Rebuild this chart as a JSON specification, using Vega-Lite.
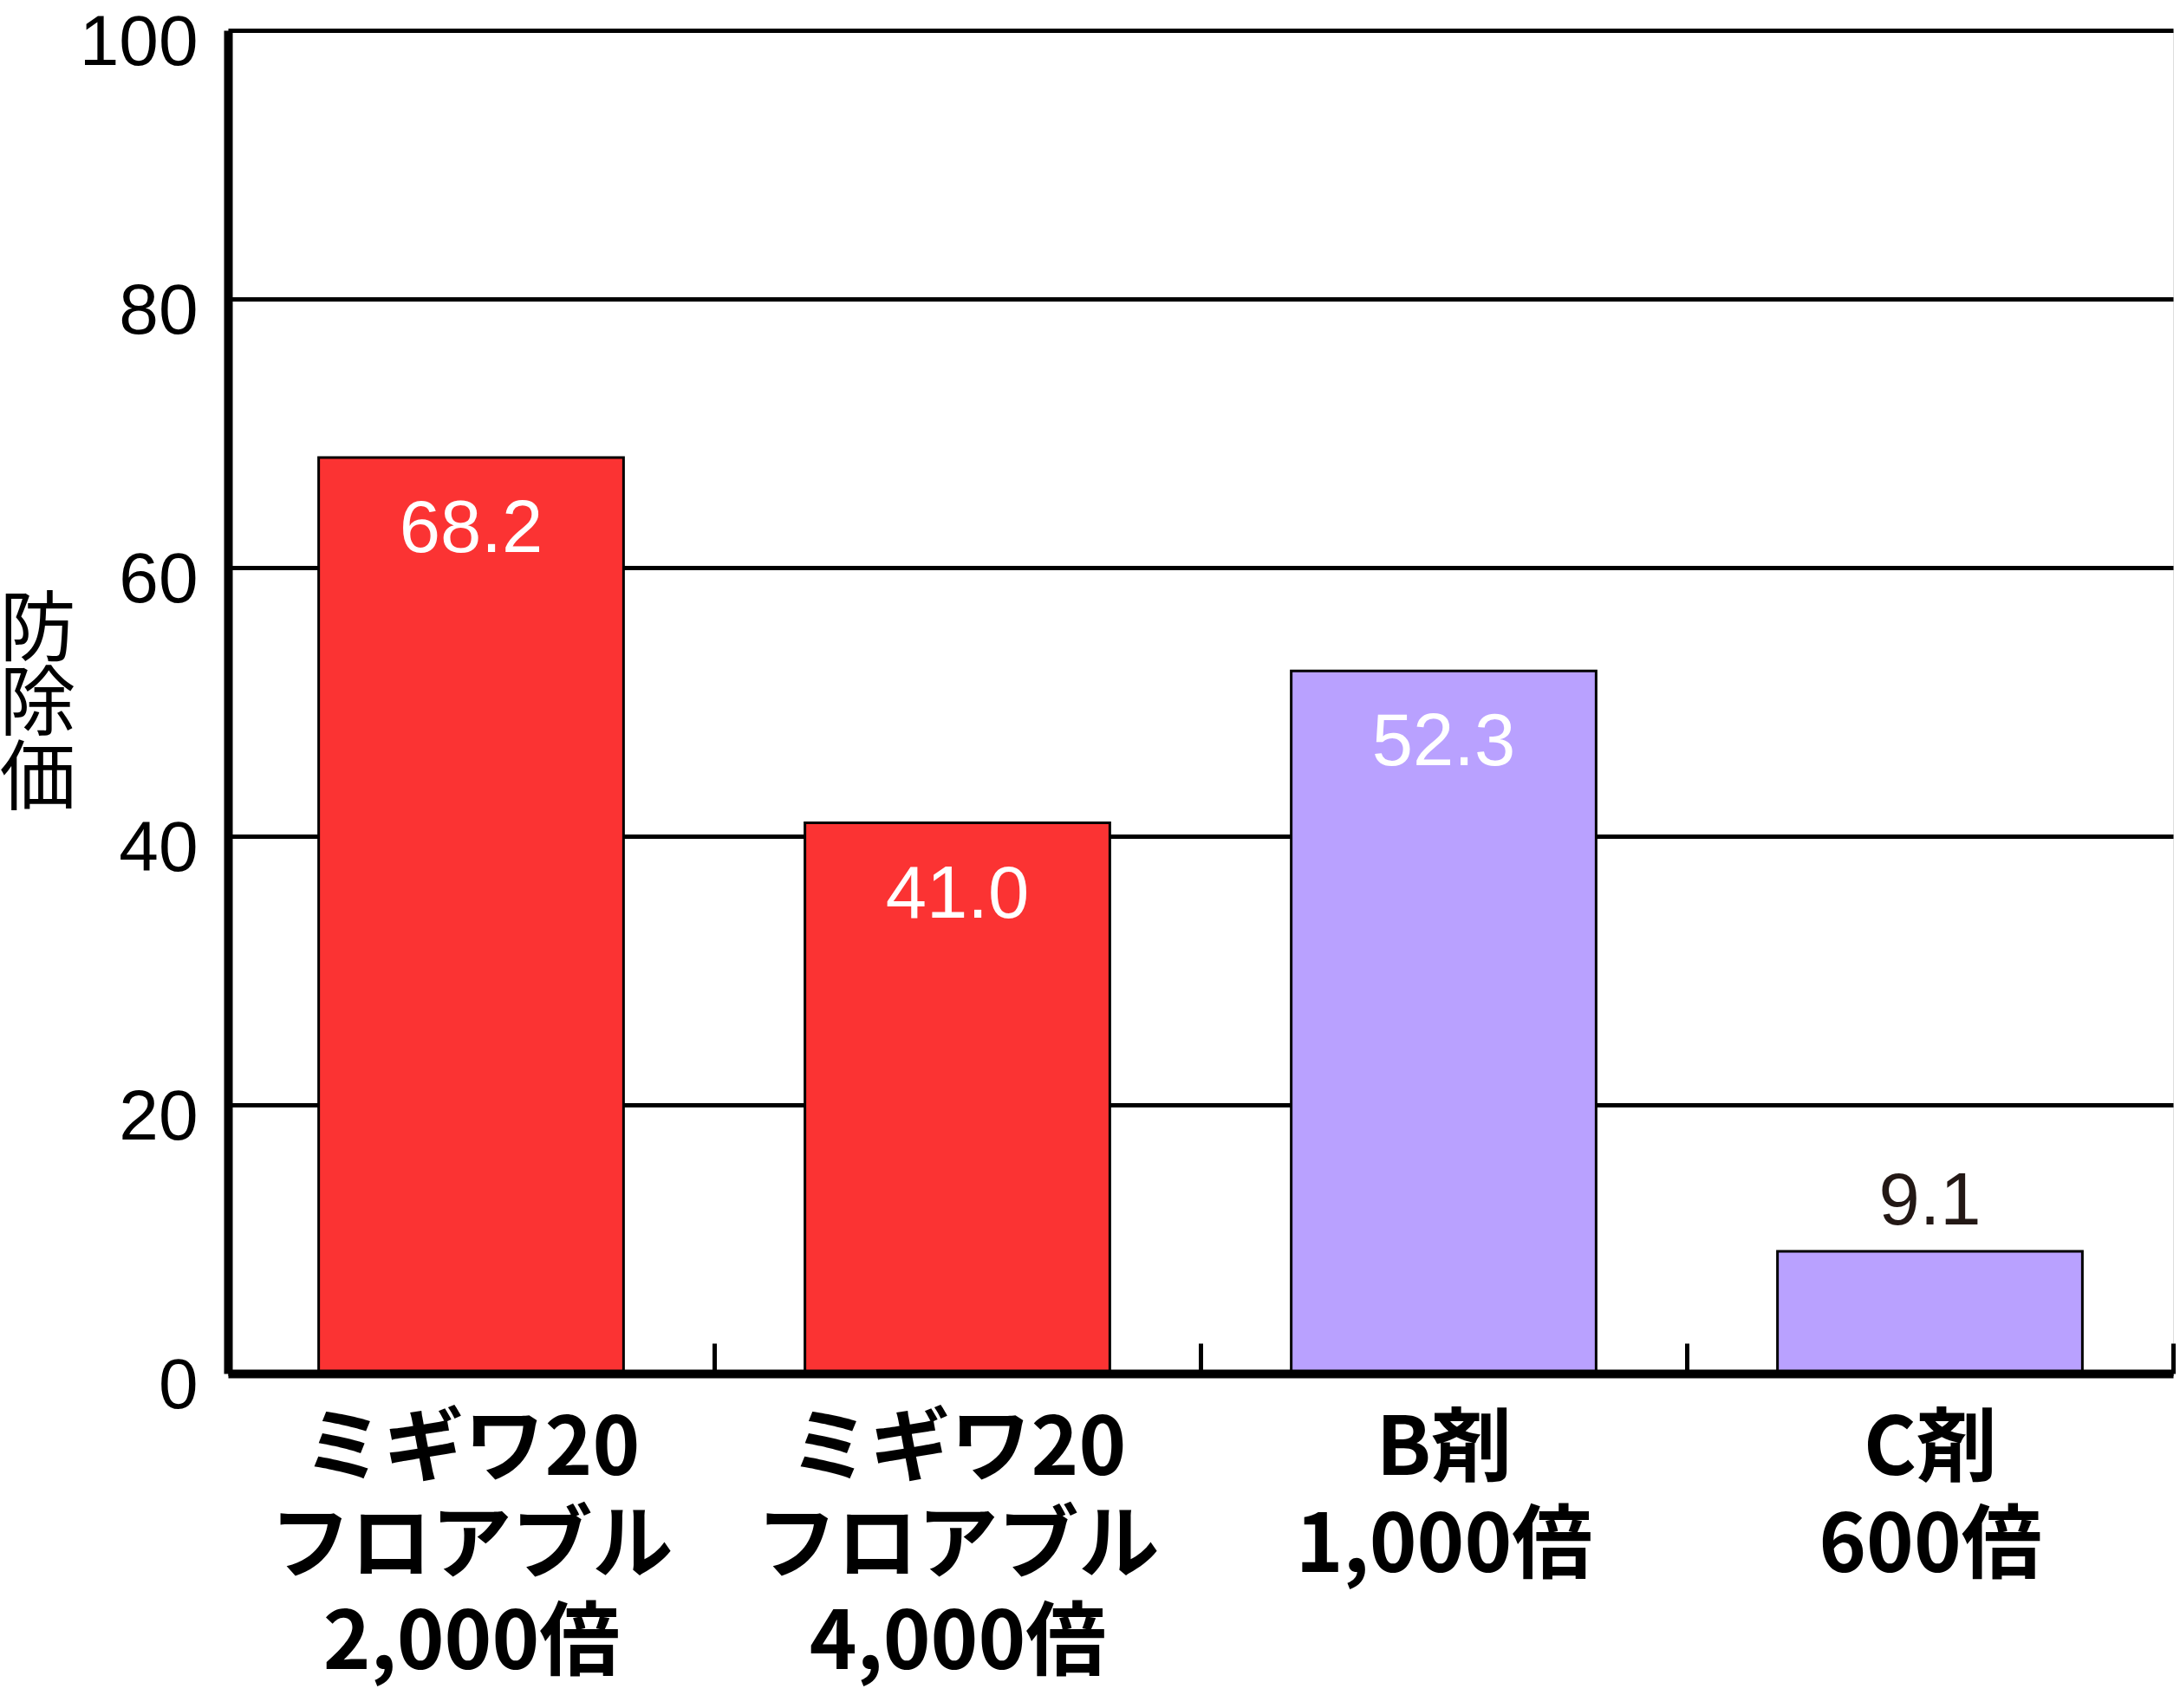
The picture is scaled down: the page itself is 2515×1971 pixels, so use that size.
{
  "$schema": "https://vega.github.io/schema/vega-lite/v6.json",
  "autosize": {"type": "none"},
  "padding": {"left": 263, "top": 35, "right": 8, "bottom": 386},
  "width": 2244,
  "height": 1550,
  "background": "white",
  "data": {
    "values": [
      {"name": "ミギワ20 フロアブル 2,000倍", "type": "ミギワ20", "value": 68.2, "label": "68.2"},
      {"name": "ミギワ20 フロアブル 4,000倍", "type": "ミギワ20", "value": 41.0, "label": "41.0"},
      {"name": "B剤 1,000倍", "type": "対照剤", "value": 52.3, "label": "52.3"},
      {"name": "C剤 600倍", "type": "対照剤", "value": 9.1, "label": "9.1"}
    ]
  },
  "encoding": {
    "x": {
      "field": "name", "type": "nominal", "sort": null,
      "scale": {"paddingInner": 0.373, "paddingOuter": 0.1865},
      "axis": {
        "title": null,
        "labelAngle": 0,
        "labelExpr": "split(datum.label, ' ')",
        "labelFont": "Noto Sans CJK JP",
        "labelFontWeight": "bold",
        "labelFontSize": 93,
        "labelLineHeight": 112,
        "labelLimit": 2000,
        "labelColor": "black",
        "labelBaseline": "top",
        "labelPadding": 78,
        "labelOffset": -280.5,
        "domainColor": "black",
        "domainWidth": 10,
        "tickOffset": 280.5,
        "tickSize": -35,
        "tickWidth": 5,
        "tickColor": "black",
        "grid": false,
        "zindex": 1
      }
    },
    "y": {
      "field": "value", "type": "quantitative",
      "scale": {"domain": [0, 100], "nice": false},
      "axis": {
        "values": [0, 20, 40, 60, 80, 100],
        "title": ["防", "除", "価"],
        "titleAngle": 0,
        "titleFont": "Noto Sans CJK JP",
        "titleFontWeight": "normal",
        "titleFontSize": 88,
        "titleLineHeight": 86,
        "titleColor": "black",
        "titleAlign": "center",
        "titleBaseline": "middle",
        "titleX": -220,
        "titleY": 693,
        "labelFont": "Liberation Sans",
        "labelFontSize": 82,
        "labelColor": "black",
        "labelPadding": 35,
        "labelBaseline": "middle",
        "labelOffset": 14,
        "ticks": false,
        "domainColor": "black",
        "domainWidth": 10,
        "grid": true,
        "gridColor": "black",
        "gridWidth": 5,
        "gridOpacity": 1
      }
    }
  },
  "layer": [
    {
      "mark": {"type": "bar", "stroke": "black", "strokeWidth": 3},
      "encoding": {
        "color": {
          "field": "type", "type": "nominal",
          "scale": {"domain": ["ミギワ20", "対照剤"], "range": ["#FB3333", "#B9A1FF"]},
          "legend": null
        }
      }
    },
    {
      "transform": [{"filter": "datum.value >= 20"}],
      "mark": {"type": "text", "font": "Liberation Sans", "fontSize": 85, "color": "white", "baseline": "alphabetic", "dy": 109},
      "encoding": {"text": {"field": "label"}}
    },
    {
      "transform": [{"filter": "datum.value < 20"}],
      "mark": {"type": "text", "font": "Liberation Sans", "fontSize": 85, "color": "#231815", "baseline": "alphabetic", "dy": -31},
      "encoding": {"text": {"field": "label"}}
    }
  ]
}
